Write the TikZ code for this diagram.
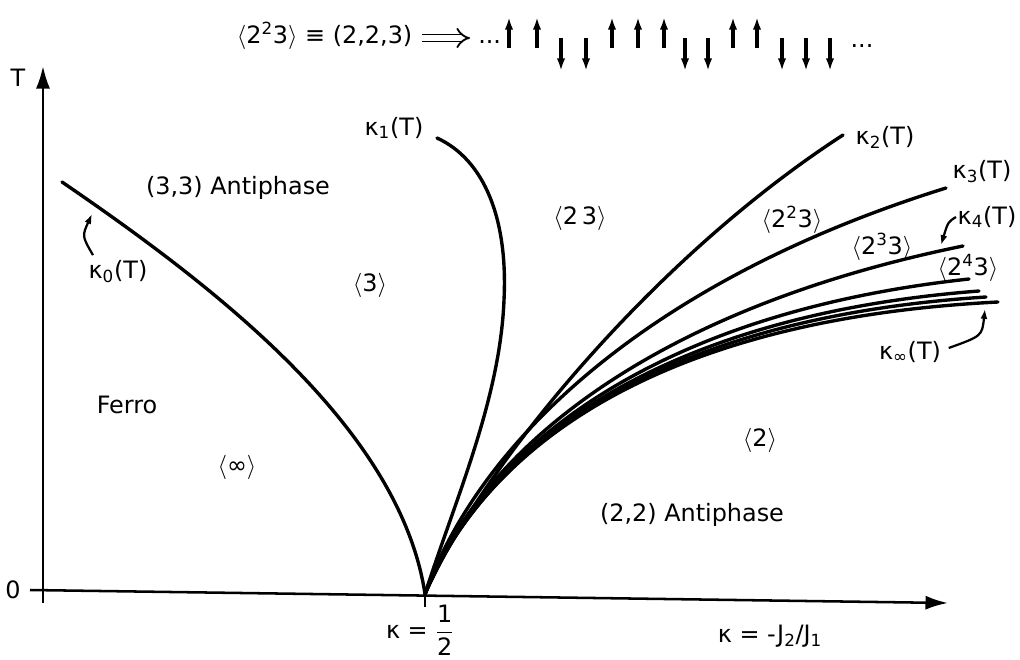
\documentclass[tikz,border=0pt]{standalone}
\usepackage{amsmath}
\usepackage{fontspec}
\setmainfont{DejaVu Sans}
\usetikzlibrary{positioning,arrows.meta}

\tikzset{
  axis/.style={line width=1.8pt, -{Latex[length=16pt,width=10pt]}},
  phase/.style={line width=2.4pt, line cap=round},
  lbl/.style={inner sep=1pt, font=\fontsize{17}{19}\selectfont},
  spinup/.style={line width=2.4pt, -{Latex[length=9pt,width=6pt]}},
  pointer/.style={line width=1.6pt, -{Latex[length=7pt,width=5pt]}},
  implies/.style={double, double distance=3.6pt, line width=1.3pt, -{Implies}},
}
\newcommand{\kap}[1]{κ\textsubscript{#1}(T)}
\newcommand{\br}[1]{$\langle$#1$\rangle$}

\begin{document}
\begin{tikzpicture}[x=0.025cm, y=-0.025cm]
  \useasboundingbox (0,0) rectangle (1020,659);
  % axes
  \draw[axis] (43,603) -- (43,66);
  \draw[axis] (30,590) -- (948,603);
  \coordinate (cusp) at (425,594);
  \draw[line width=1.8pt] (cusp) -- ++(0,13);
  \node[lbl] (tlab) at (18,78) {T};
  \node[lbl] (zero) at (13,590) {0};
  \node[lbl] (half) at (420,630) {κ = $\dfrac{\text{1}}{\text{2}}$};
  \node[lbl] (ratio) at (770,636) {κ = -J\textsubscript{2}/J\textsubscript{1}};

  % phase boundaries
  \draw[phase] (62,182) .. controls (220,290) and (400,430) .. (cusp);
  \draw[phase] (437,138) .. controls (485,160) and (508,220) .. (504,300)
    .. controls (500,400) and (455,500) .. (cusp);
  \draw[phase] (cusp) .. controls (480,470) and (650,260) .. (843,135);
  \draw[phase] (cusp) .. controls (480,440) and (650,280) .. (946,188);
  \draw[phase] (cusp) .. controls (480,450) and (650,310) .. (963,246);
  \draw[phase] (cusp) .. controls (480,455) and (646,314) .. (969,279);
  \draw[phase] (cusp) .. controls (480,458) and (643,317) .. (979,291);
  \draw[phase] (cusp) .. controls (480,460) and (641,319) .. (986,297);
  \draw[phase] (cusp) .. controls (480,460) and (640,320) .. (998,302);

  % curve labels
  \node[lbl] (k0) at (118,272) {\kap{0}};
  \node[lbl] (k1) at (394,128) {\kap{1}};
  \node[lbl] (k2) at (885,137) {\kap{2}};
  \node[lbl] (k3) at (982,172) {\kap{3}};
  \node[lbl] (k4) at (987,217) {\kap{4}};
  \node[lbl] (kinf) at (910,352) {κ\textsubscript{∞}(T)};
  \coordinate (k0tip) at (92,214);
  \coordinate (k4tip) at (941,245);
  \coordinate (kinftip) at (985,309);
  \draw[pointer] (k0.north west) ++(6,-4) .. controls (82,236) .. (k0tip);
  \draw[pointer] (k4.west) .. controls (948,222) .. (k4tip);
  \draw[pointer] (kinf.east) ++(6,-4) .. controls (982,336) .. (kinftip);

  % phase labels
  \node[lbl] (anti33) at (238,188) {(3,3) Antiphase};
  \node[lbl] (p3) at (370,285) {\br{3}};
  \node[lbl] (p23) at (580,218) {\br{2\,3}};
  \node[lbl] (p223) at (792,220) {\br{2\textsuperscript{2}3}};
  \node[lbl] (p233) at (882,247) {\br{2\textsuperscript{3}3}};
  \node[lbl] (p243) at (968,268) {\br{2\textsuperscript{4}3}};
  \node[lbl] (ferro) at (127,405) {Ferro};
  \node[lbl] (pinf) at (237,467) {\br{∞}};
  \node[lbl] (p2) at (760,440) {\br{2}};
  \node[lbl] (anti22) at (692,515) {(2,2) Antiphase};

  % spin sequence
  \node[lbl, anchor=east] (rule) at (414,36)
    {\br{2\textsuperscript{2}3} ≡ (2,2,3)};
  \coordinate (impl) at (470,38);
  \draw[implies] (rule.east) ++(8,2) -- (impl);
  \node[lbl, anchor=west, inner sep=0pt] (dotsl) at (478,42) {...};
  \node[lbl] (dotsr) at (862,46) {...};
  \foreach \sx in {509,537,612,638,664,733,757}
    \draw[spinup] (\sx,48) -- (\sx,17);
  \foreach \sx in {561,586,685,708,782,806,830}
    \draw[spinup] (\sx,38) -- (\sx,71);
\end{tikzpicture}
\end{document}
